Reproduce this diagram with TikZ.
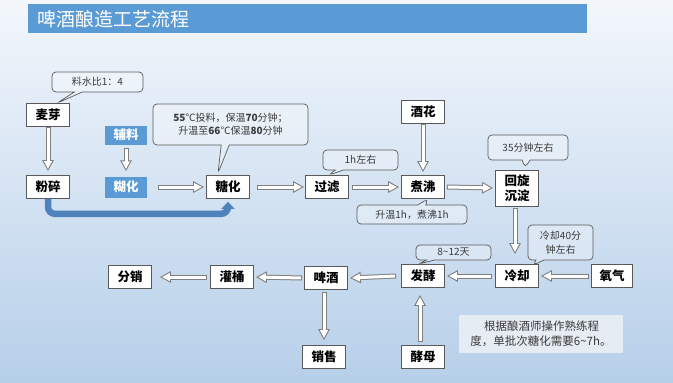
\documentclass[tikz,border=0pt]{standalone}
\usepackage{fontspec}
\newfontfamily\cjk{Noto Sans CJK SC}
\usetikzlibrary{arrows.meta,shapes.callouts}
\definecolor{bgtop}{HTML}{F3F7FC}
\definecolor{bgbot}{HTML}{B6CFE9}
\definecolor{banner}{HTML}{5B9BD5}
\definecolor{boxline}{HTML}{595959}
\definecolor{arrline}{HTML}{808080}
\definecolor{bluearr}{HTML}{4F81BD}
\definecolor{notefill}{HTML}{E6ECF4}
\definecolor{remarktext}{HTML}{3A3A3A}

\tikzset{
  stage/.style={draw=boxline, line width=0.7pt, fill=white, minimum width=43pt,
    minimum height=23pt, inner sep=0pt, font=\cjk\bfseries\fontsize{12.5}{14}\selectfont},
  bluestage/.style={fill=banner, text=white, minimum width=42pt, minimum height=21pt,
    inner sep=0pt, font=\cjk\bfseries\fontsize{12.5}{14}\selectfont},
  remark/.style={rectangle callout, rounded corners=4pt, draw=boxline, line width=0.7pt,
    fill=white, fill opacity=0.3, text opacity=1, text=remarktext, inner sep=0pt,
    callout pointer width=8pt, align=center, font=\cjk\fontsize{10}{13}\selectfont},
  hollow/.style={draw=arrline, line width=5pt, -{Triangle[length=11pt,width=11pt]},
    postaction={draw=white, line width=3pt, shorten <=1pt, shorten >=2.2pt,
      -{Triangle[length=7.8pt,width=7.6pt]}}},
  bluepath/.style={draw=bluearr, line width=6.5pt, rounded corners=7pt,
    -{Triangle[length=7pt,width=13pt]}}
}

\begin{document}
\begin{tikzpicture}[x=1pt,y=-1pt]
\useasboundingbox (0,0) rectangle (673,383);
\shade[top color=bgtop, bottom color=bgbot] (0,0) rectangle (673,383);

% title
\fill[banner] (28,4) rectangle (587,33);
\node[anchor=west, text=white, inner sep=0pt, font=\cjk\fontsize{19}{22}\selectfont] (title) at (37,19) {啤酒酿造工艺流程};

% stages
\node[stage] (maiya) at (48,115) {麦芽};
\node[stage] (fensui) at (48,187) {粉碎};
\node[bluestage, minimum height=19pt] (fuliao) at (126,135) {辅料};
\node[bluestage] (huhua) at (126,187) {糊化};
\node[stage] (tanghua) at (228,187) {糖化};
\node[stage] (guolv) at (327,187) {过滤};
\node[stage] (jiuhua) at (423,112) {酒花};
\node[stage] (zhufei) at (423,187) {煮沸};
\node[stage, minimum height=36pt, align=center, font=\cjk\bfseries\fontsize{12.5}{15}\selectfont] (huixuan) at (517,188) {回旋\\沉淀};
\node[stage] (lengque) at (517,276) {冷却};
\node[stage, minimum width=41pt] (yangqi) at (612,276) {氧气};
\node[stage] (fajiao) at (423,276) {发酵};
\node[stage] (jiaomu) at (423,357) {酵母};
\node[stage] (pijiu) at (326,278) {啤酒};
\node[stage] (xiaoshou) at (324,357) {销售};
\node[stage] (guantong) at (232,277) {灌桶};
\node[stage] (fenxiao) at (130,277) {分销};

% remarks
\node[remark, minimum width=91pt, minimum height=20pt, callout absolute pointer={([xshift=9pt]maiya.north)}] (ratio) at (97.5,82) {料水比1：4};
\node[remark, minimum width=155pt, minimum height=41pt, callout absolute pointer={([xshift=-10pt,yshift=2pt]tanghua.north)}] (mash) at (230.5,124.5) {\textbf{55}℃投料，保温\textbf{70}分钟；\\升温至\textbf{66}℃保温\textbf{80}分钟};
\node[remark, minimum width=75pt, minimum height=20pt, callout absolute pointer={([xshift=1.5pt]guolv.north)}] (filt) at (360.5,160) {1h左右};
\node[remark, minimum width=110pt, minimum height=19pt, callout absolute pointer={([xshift=5pt]zhufei.south)}] (boil) at (412,214.5) {升温1h，煮沸1h};
\node[remark, minimum width=80pt, minimum height=25pt, callout absolute pointer={([xshift=8pt,yshift=2pt]huixuan.north)}] (whirl) at (528,147.5) {35分钟左右};
\node[remark, minimum width=65pt, minimum height=35pt, font=\cjk\fontsize{10}{14}\selectfont, callout absolute pointer={([xshift=16pt,yshift=-1pt]lengque.north)}] (cool) at (560.5,242.5) {冷却40分\\钟左右};
\node[remark, minimum width=75pt, minimum height=15pt, callout absolute pointer={([xshift=-5pt]fajiao.north)}] (ferm) at (453.5,252.5) {8\textasciitilde12天};

% note
\node[fill=notefill, minimum width=164pt, minimum height=38pt, inner sep=2pt, align=left, text=remarktext, font=\cjk\fontsize{11.5}{15}\selectfont] (note) at (541,334) {\hspace{1.2em}根据酿酒师操作熟练程\\度，单批次糖化需要6\textasciitilde7h。};

% flow
\draw[bluepath] (fensui.south) -- ++(0,15) -| ([yshift=-3pt]tanghua.south);
\draw[hollow] (maiya.south) -- ([yshift=4pt]fensui.north);
\draw[hollow] ([yshift=-3pt]fuliao.south) -- ([yshift=5pt]huhua.north);
\draw[hollow] ([xshift=11pt]huhua.east) -- ([xshift=-2pt]tanghua.west);
\draw[hollow] ([xshift=7pt]tanghua.east) -- ([xshift=-1pt]guolv.west);
\draw[hollow] ([xshift=3pt]guolv.east) -- ([xshift=-2pt]zhufei.west);
\draw[hollow] (jiuhua.south) -- ([yshift=3pt]zhufei.north);
\draw[hollow] ([xshift=2pt]zhufei.east) -- ([xshift=-2pt]huixuan.west);
\draw[hollow] ([xshift=-2pt,yshift=-2pt]huixuan.south) -- ([xshift=-2pt,yshift=10pt]lengque.north);
\draw[hollow] ([xshift=-2pt]yangqi.west) -- ([xshift=2pt]lengque.east);
\draw[hollow] ([xshift=-3pt]lengque.west) -- ([xshift=2pt]fajiao.east);
\draw[hollow] ([xshift=-5pt]fajiao.west) -- ([xshift=2pt]pijiu.east);
\draw[hollow] ([xshift=-3pt,yshift=3pt]jiaomu.north) -- ([xshift=-3pt,yshift=-7pt]fajiao.south);
\draw[hollow] ([xshift=-2pt,yshift=-2pt]pijiu.south) -- ([yshift=5pt]xiaoshou.north);
\draw[hollow] ([xshift=-2pt]pijiu.west) -- ([xshift=2pt]guantong.east);
\draw[hollow] ([xshift=-3pt]guantong.west) -- ([xshift=8pt]fenxiao.east);
\end{tikzpicture}
\end{document}
